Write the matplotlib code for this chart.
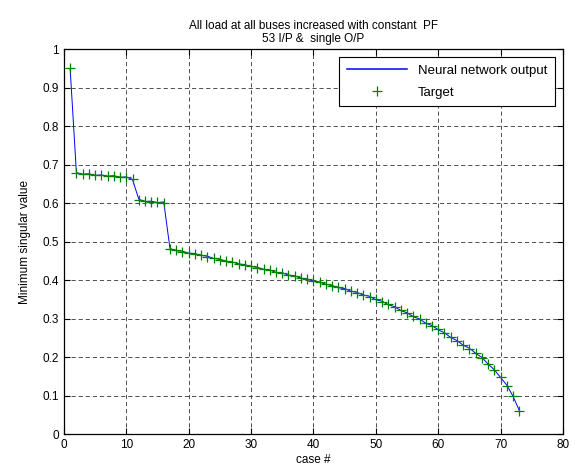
import numpy as np
import matplotlib.pyplot as plt

plt.rcParams['font.family'] = ['Liberation Sans', 'DejaVu Sans']
plt.rcParams['font.size'] = 8

case_no = list(range(1, 74))
target = [0.950, 0.677, 0.676, 0.675, 0.674, 0.672, 0.671, 0.670, 0.668, 0.667,
          0.662, 0.609, 0.606, 0.604, 0.603, 0.601, 0.480, 0.477, 0.474, 0.471,
          0.468, 0.465, 0.461, 0.457, 0.453, 0.450, 0.446, 0.443, 0.439, 0.436,
          0.432, 0.429, 0.425, 0.421, 0.418, 0.414, 0.410, 0.406, 0.402, 0.398,
          0.394, 0.390, 0.385, 0.381, 0.377, 0.372, 0.367, 0.362, 0.357, 0.350,
          0.344, 0.337, 0.330, 0.322, 0.314, 0.306, 0.298, 0.289, 0.281, 0.272,
          0.262, 0.252, 0.242, 0.232, 0.222, 0.211, 0.198, 0.183, 0.166, 0.148,
          0.126, 0.099, 0.060]
nn_output = [0.949, 0.679, 0.675, 0.676, 0.672, 0.673, 0.670, 0.671, 0.667, 0.668,
             0.661, 0.610, 0.604, 0.605, 0.601, 0.603, 0.482, 0.476, 0.475, 0.470,
             0.469, 0.464, 0.462, 0.456, 0.454, 0.449, 0.447, 0.442, 0.440, 0.435,
             0.433, 0.428, 0.426, 0.420, 0.419, 0.413, 0.411, 0.405, 0.403, 0.397,
             0.395, 0.389, 0.386, 0.380, 0.378, 0.371, 0.368, 0.361, 0.358, 0.349,
             0.345, 0.336, 0.331, 0.321, 0.315, 0.305, 0.299, 0.288, 0.282, 0.271,
             0.263, 0.251, 0.243, 0.231, 0.223, 0.210, 0.199, 0.182, 0.167, 0.147,
             0.127, 0.098, 0.061]

fig = plt.figure(figsize=(5.81, 4.76), dpi=100)
ax = fig.add_axes([0.110, 0.088, 0.859, 0.809])

ax.plot(case_no, nn_output, color='#0000ff', lw=0.7, label='Neural network output')
ax.plot(case_no, target, ls='none', marker='+', ms=7, mew=0.9, color='#008000', label='Target')

ax.set_xlim(0, 80)
ax.set_ylim(0, 1)
ax.set_xticks(np.arange(0, 81, 10))
ax.set_yticks(np.arange(0, 1.01, 0.1))
ax.set_yticklabels(['0', '0.1', '0.2', '0.3', '0.4', '0.5', '0.6', '0.7', '0.8', '0.9', '1'])
ax.tick_params(direction='in', length=4, width=0.8, top=True, right=True, labelsize=8.5)
ax.grid(True, color='#333333', ls=(0, (5, 3.5)), lw=0.6)
for s in ax.spines.values():
    s.set_linewidth(0.9)

ax.set_xlabel('case #', fontsize=8.5, labelpad=2)
ax.set_ylabel('Minimum singular value', fontsize=8.5, labelpad=8)
ax.set_title('All load at all buses increased with constant  PF\n53 I/P &  single O/P',
             fontsize=8.5, pad=5, linespacing=1.15)

leg = ax.legend(loc='upper right', fontsize=9.5, fancybox=False, framealpha=1,
                edgecolor='black', borderaxespad=0.6, handlelength=4.6,
                handletextpad=0.8, borderpad=0.6, labelspacing=0.7)
leg.get_frame().set_linewidth(0.8)
leg.legend_handles[0].set_linewidth(1.1)

plt.savefig('out.png', dpi=100)
